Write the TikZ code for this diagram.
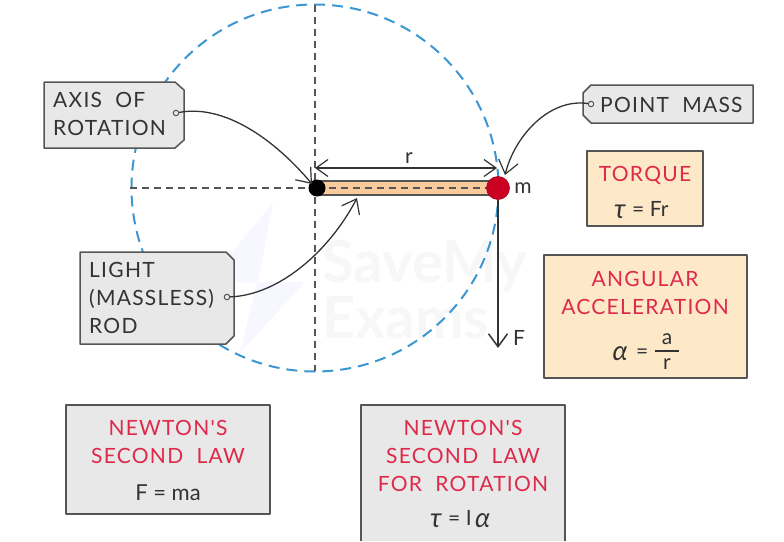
\documentclass[tikz,border=0pt]{standalone}
\usepackage{fontspec}
\setmainfont{Lato}
\newfontfamily\capsfont[LetterSpace=6]{Lato}
\usetikzlibrary{arrows.meta}
\definecolor{edgec}{HTML}{555555}
\definecolor{inkc}{HTML}{333333}
\definecolor{redc}{HTML}{DE2A4A}
\definecolor{greyfill}{HTML}{E8E8E8}
\definecolor{peach}{HTML}{FDE8C8}
\definecolor{rodfill}{HTML}{F8CB9C}
\definecolor{bluec}{HTML}{3C96D2}
\definecolor{massred}{HTML}{CC0022}
\tikzset{
  boxline/.style={draw=edgec,line width=1.5pt,line join=round},
  greybox/.style={boxline,fill=greyfill},
  peachbox/.style={boxline,fill=peach},
  txt/.style={text=inkc,font=\capsfont\fontsize{21}{28}\selectfont,align=left,inner sep=0pt},
  hd/.style={text=redc,font=\capsfont\fontsize{21}{28}\selectfont,align=center,inner sep=0pt},
  eq/.style={text=inkc,font=\fontsize{21}{24}\selectfont,align=center,inner sep=0pt},
  big/.style={text=inkc,font=\fontsize{27}{27}\selectfont,inner sep=0pt},
  hook/.style={circle,draw=edgec,fill=greyfill,line width=1pt,minimum size=5.5pt,inner sep=0pt},
  pointer/.style={draw=inkc,line width=1.3pt,-{Straight Barb[length=13pt,width=20pt,line width=1.2pt]}},
  guide/.style={draw=edgec,line width=1.3pt,dash pattern=on 7pt off 5pt}
}
\begin{document}
\begin{tikzpicture}[x=1pt,y=-1pt]
\useasboundingbox (0,0) rectangle (784,541);
% watermark
\fill[blue!3!white] (273,203) -- (207,282) -- (257,282) -- (240,353) -- (305,282) -- (258,282) -- cycle;
\node[anchor=west,text=black!3,inner sep=0pt,font=\bfseries\fontsize{58}{58}\selectfont] (wm1) at (322,266) {SaveMy};
\node[anchor=west,text=black!3,inner sep=0pt,font=\bfseries\fontsize{58}{58}\selectfont] (wm2) at (322,318) {Exams};
% circle and axes
\draw[bluec,line width=2pt,dash pattern=on 11pt off 7pt] (315,188) circle[radius=183.5];
\coordinate (vtop) at (315,5);
\coordinate (vbot) at (315,371);
\coordinate (hleft) at (130,188);
\coordinate (hright) at (490,188);
\draw[guide] (vtop) -- (vbot);
\draw[guide] (hleft) -- (317,188);
% rod
\draw[boxline,fill=rodfill] (317,181) rectangle (499,195);
\draw[guide] (317,188) -- (hright);
% force
\node[circle,fill=black,minimum size=17pt,inner sep=0pt] (pivot) at (317,188) {};
\node[circle,fill=massred,draw=massred!80!black,line width=.6pt,minimum size=23pt,inner sep=0pt] (mass) at (498,188) {};
\coordinate (ftip) at (498,348);
\draw[draw=inkc,line width=2pt,-{Straight Barb[length=13pt,width=19pt,line width=1.5pt]}] (mass.south) -- (ftip);
\node[eq] (flab) at (519,338) {F};
\node[eq] (mlab) at (523,188) {m};
% r dimension
\coordinate (rl) at (315,168);
\coordinate (rr) at (497,168);
\draw[draw=inkc,line width=1.3pt,{Straight Barb[length=12pt,width=17pt,line width=1.2pt]}-{Straight Barb[length=12pt,width=17pt,line width=1.2pt]}] (rl) -- (rr);
\node[eq] (rlab) at (409,158) {r};
% grey label boxes
\draw[greybox] (44,82) -- (175,82) -- (184,90) -- (184,140) -- (175,148) -- (44,148) -- cycle;
\node[txt,anchor=west] (axis) at (53,114) {AXIS\ \ OF\\ROTATION};
\node[hook] (axisdot) at (176,113) {};
\draw[greybox] (80,252) -- (226,252) -- (234,260) -- (234,336) -- (226,344) -- (80,344) -- cycle;
\node[txt,anchor=west] (light) at (89,298) {LIGHT\\(MASSLESS)\\ROD};
\node[hook] (lightdot) at (227,297) {};
\draw[greybox] (591,85) -- (753,85) -- (753,123) -- (591,123) -- (583,115) -- (583,93) -- cycle;
\node[txt,anchor=west] (pm) at (600,105) {POINT\ \ MASS};
\node[hook] (pmdot) at (591,104) {};
% pointers
\coordinate (pivottip) at (312,184);
\coordinate (rodtip) at (357,198);
\coordinate (masstip) at (505,175);
\draw[pointer] (axisdot) .. controls (225,104) and (275,140) .. (pivottip);
\draw[pointer] (lightdot) .. controls (280,295) and (330,250) .. (rodtip);
\draw[pointer] (pmdot) .. controls (550,98) and (515,135) .. (masstip);
% formula boxes
\draw[peachbox] (587,151) rectangle (703,226);
\node[hd] (torque) at (645,175) {TORQUE};
\node[big,anchor=base] (torquetau) at (620,218) {\textit{τ}};
\node[eq,anchor=base west] (torqueeq) at (632,216) {= Fr};
\draw[peachbox] (544,255) rectangle (747,378);
\node[hd] (ang) at (645,293) {ANGULAR\\ACCELERATION};
\node[big,anchor=base] (angalpha) at (620,360) {\textit{α}};
\node[eq,anchor=base west] (angeq) at (636,358) {=};
\node[eq] (anga) at (667,339) {a};
\node[eq] (angr) at (667,364) {r};
\draw[inkc,line width=1.2pt] (655,351) -- (679,351);
\draw[greybox] (66,405) rectangle (270,514);
\node[hd] (n1) at (168,442) {NEWTON'S\\SECOND\ \ LAW};
\node[eq,font=\fontsize{22}{24}\selectfont] (n1eq) at (168,493) {F = ma};
\fill[greyfill] (361,405) rectangle (565,541);
\draw[boxline] (361,541) -- (361,405) -- (565,405) -- (565,541);
\node[hd] (n2) at (463,456) {NEWTON'S\\SECOND\ \ LAW\\FOR\ \ ROTATION};
\node[big,anchor=base] (n2tau) at (436,527) {\textit{τ}};
\node[eq,anchor=base west] (n2eq) at (448,525) {= I};
\node[big,anchor=base west] (n2alpha) at (475,527) {\textit{α}};
\end{tikzpicture}
\end{document}
